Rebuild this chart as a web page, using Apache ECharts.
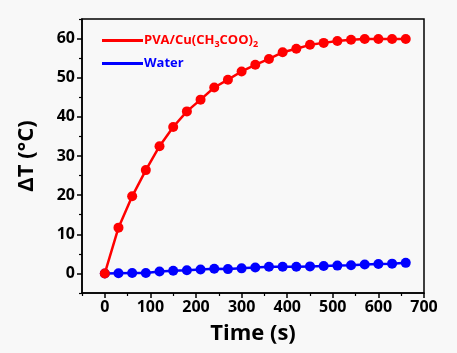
<!DOCTYPE html>
<html><head><meta charset="utf-8">
<script src="https://cdn.jsdelivr.net/npm/echarts@6/dist/echarts.min.js"></script>
<style>html,body{margin:0;padding:0;background:#f8f8f8;}#c{width:457px;height:353px;}</style>
</head><body><div id="c"></div>
<script>
const times = [0,30,60,90,120,150,180,210,240,270,300,330,360,390,420,450,480,510,540,570,600,630,660];
const pvaCu = [0,11.7,19.7,26.4,32.5,37.4,41.4,44.4,47.5,49.5,51.6,53.3,54.8,56.5,57.4,58.4,58.9,59.4,59.7,59.9,59.9,59.9,59.9];
const water = [0,0.05,0.1,0.1,0.5,0.7,0.8,1.0,1.2,1.1,1.3,1.5,1.7,1.7,1.7,1.8,1.9,2.0,2.1,2.3,2.4,2.5,2.7];
const seriesNames = ['PVA/Cu(CH3COO)2','Water'];
const xTicks = [0,100,200,300,400,500,600,700];
const xMinorTicks = [-50,50,150,250,350,450,550,650];
const yTicks = [0,10,20,30,40,50,60];
const yMinorTicks = [-5,5,15,25,35,45,55,65];
const xTitle = 'Time (s)';
const yTitle = 'ΔT (°C)';
const font = '"Open Sans", sans-serif';
const lab = {fontSize:16,fontWeight:'bold',color:'#000',fontFamily:font};
const title = {fontSize:22,fontWeight:'bold',color:'#000',fontFamily:font};

const chart = echarts.init(document.getElementById('c'));
chart.setOption({
  backgroundColor:'#f8f8f8',
  animation:false,
  grid:{left:82,right:33,top:19,bottom:60,show:true,borderColor:'#000',borderWidth:1.5,backgroundColor:'transparent'},
  legend:{
    left:97, top:29, orient:'vertical', itemGap:8,
    icon:'rect', itemWidth:41, itemHeight:3,
    data:[seriesNames[0], seriesNames[1]],
    formatter:function(n){
      if(n===seriesNames[0]) return '{r|PVA/Cu(CH}{rs|3}{r|COO)}{rs|2}';
      return '{b|Water}';
    },
    textStyle:{
      padding:[0,0,0,-4],
      rich:{
        r:{color:'#ff0000',fontWeight:'bold',fontSize:13,fontFamily:font},
        rs:{color:'#ff0000',fontWeight:'bold',fontSize:9,fontFamily:font,padding:[8,0,0,0]},
        b:{color:'#0000ff',fontWeight:'bold',fontSize:13,fontFamily:font}
      }
    }
  },
  xAxis:[{
    type:'value',min:-50,max:700,
    name:xTitle,nameLocation:'middle',nameGap:30,nameTextStyle:title,
    axisLine:{show:true,onZero:false,lineStyle:{color:'#000',width:1.5}},
    axisTick:{show:true,inside:false,length:5,lineStyle:{color:'#000',width:1.5},customValues:xTicks},
    axisLabel:Object.assign({margin:6,customValues:xTicks},lab),
    splitLine:{show:false}
  },{
    type:'value',min:-50,max:700,position:'bottom',
    axisLine:{show:false,onZero:false},
    axisTick:{show:true,inside:false,length:3,lineStyle:{color:'#000',width:1.2},customValues:xMinorTicks},
    axisLabel:{show:false},splitLine:{show:false}
  }],
  yAxis:[{
    type:'value',min:-5,max:65,
    name:yTitle,nameLocation:'middle',nameGap:44,nameTextStyle:title,
    axisLine:{show:true,onZero:false,lineStyle:{color:'#000',width:1.5}},
    axisTick:{show:true,inside:false,length:5,lineStyle:{color:'#000',width:1.5},customValues:yTicks},
    axisLabel:Object.assign({margin:7,customValues:yTicks},lab),
    splitLine:{show:false}
  },{
    type:'value',min:-5,max:65,position:'left',
    axisLine:{show:false,onZero:false},
    axisTick:{show:true,inside:false,length:3,lineStyle:{color:'#000',width:1.2},customValues:yMinorTicks},
    axisLabel:{show:false},splitLine:{show:false}
  }],
  series:[
    {name:seriesNames[0],type:'line',data:times.map((t,i)=>[t,pvaCu[i]]),
      symbol:'circle',symbolSize:10,lineStyle:{color:'#ff0000',width:2.5},itemStyle:{color:'#ff0000'},z:3},
    {name:seriesNames[1],type:'line',data:times.map((t,i)=>[t,water[i]]),
      symbol:'circle',symbolSize:10,lineStyle:{color:'#0000ff',width:2.5},itemStyle:{color:'#0000ff'},z:2}
  ]
});
</script></body></html>
